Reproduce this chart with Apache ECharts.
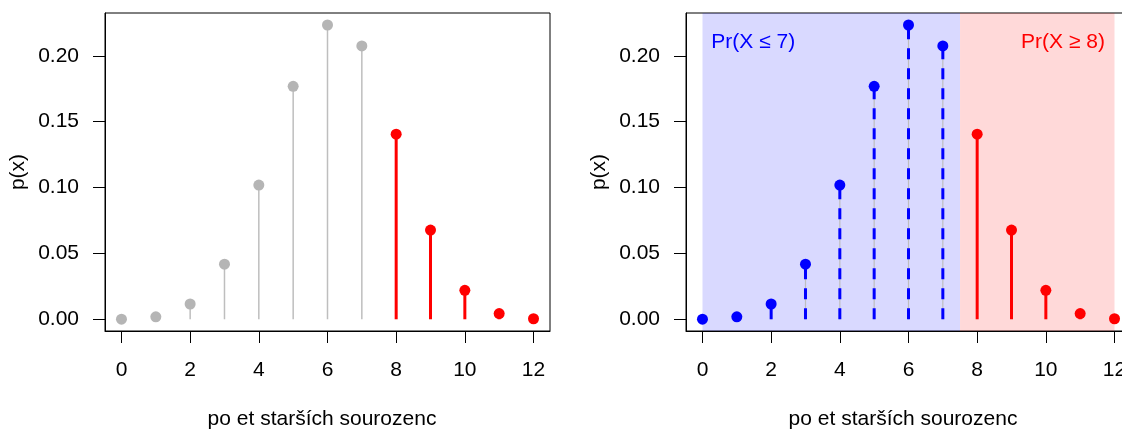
<!DOCTYPE html>
<html>
<head>
<meta charset="utf-8">
<script src="https://cdn.jsdelivr.net/npm/echarts@6/dist/echarts.min.js"></script>
<style>
html,body{margin:0;padding:0;background:#fff;}
#chart{width:1122px;height:429px;}
</style>
</head>
<body>
<div id="chart"></div>
<script>
// ---- data ----
const xValues = [0, 1, 2, 3, 4, 5, 6, 7, 8, 9, 10, 11, 12];
const probs = [0.0001, 0.0019, 0.0116, 0.0418, 0.1019, 0.1768, 0.2234, 0.2075, 0.1405, 0.0677, 0.0220, 0.0043, 0.0004];
const cutoff = 7; // lower tail: x <= 7
const xTicks = [0, 2, 4, 6, 8, 10, 12];
const yTicks = [0, 0.05, 0.10, 0.15, 0.20];
const regionBounds = [0, 7.5, 12];
const annotations = ['Pr(X \u2264 7)', 'Pr(X \u2265 8)'];
const xTitle = 'po et starších sourozenc';
const yTitle = 'p(x)';

// ---- derived ----
const pairs = xValues.map((x, i) => [x, probs[i]]);
const lower = pairs.filter(p => p[0] <= cutoff);
const upper = pairs.filter(p => p[0] > cutoff);

const FONT = 'Liberation Sans, Arial, Helvetica, sans-serif';
const FS = 21;
const BLUE = '#0000FF', RED = '#FF0000', GRAY_PT = '#B5B5B5', GRAY_LN = '#BEBEBE';

function xAxisDef(gi) {
  return {
    type: 'value', gridIndex: gi, min: -0.48, max: 12.48,
    splitLine: {show: false},
    axisLine: {show: true, onZero: false, lineStyle: {color: '#000', width: 1}},
    axisTick: {show: true, length: 12, lineStyle: {color: '#000'}, customValues: xTicks},
    axisLabel: {show: true, margin: 29, color: '#000', fontSize: FS, fontFamily: FONT, customValues: xTicks, formatter: v => String(v)},
    name: xTitle, nameLocation: 'middle', nameGap: 78,
    nameTextStyle: {color: '#000', fontSize: FS, fontFamily: FONT, padding: [0, 11, 0, 0]}
  };
}
function yAxisDef(gi) {
  return {
    type: 'value', gridIndex: gi, min: -0.0089, max: 0.2325,
    splitLine: {show: false},
    axisLine: {show: true, onZero: false, lineStyle: {color: '#000', width: 1}},
    axisTick: {show: true, length: 12, lineStyle: {color: '#000'}, customValues: yTicks},
    axisLabel: {show: true, margin: 26, color: '#000', fontSize: FS, fontFamily: FONT, customValues: yTicks, formatter: v => v.toFixed(2)},
    name: yTitle, nameLocation: 'middle', nameGap: 76, nameRotate: 90,
    nameTextStyle: {color: '#000', fontSize: FS, fontFamily: FONT}
  };
}
function stems(gi, data, color, width, dash, z) {
  return {
    type: 'custom', xAxisIndex: gi, yAxisIndex: gi, data: data, z: z, silent: true, clip: false,
    renderItem: function (params, api) {
      const p0 = api.coord([api.value(0), 0]);
      const p1 = api.coord([api.value(0), api.value(1)]);
      return {type: 'line', shape: {x1: p0[0], y1: p0[1], x2: p1[0], y2: p1[1]},
        style: {stroke: color, lineWidth: width, lineDash: dash || null, lineCap: 'butt'}};
    }
  };
}
function points(gi, data, color, z) {
  return {type: 'scatter', xAxisIndex: gi, yAxisIndex: gi, data: data, symbol: 'circle', symbolSize: 11,
    itemStyle: {color: color, opacity: 1}, z: z, silent: true, clip: false};
}

const annoColors = [BLUE, RED];
const annoPos = [[(regionBounds[0] + regionBounds[1]) / 2 - 2.27, 0.2105], [(regionBounds[1] + regionBounds[2]) / 2 + 0.75, 0.2105]];

const chart = echarts.init(document.getElementById('chart'), null, {renderer: 'canvas'});
chart.setOption({
  animation: false,
  backgroundColor: '#fff',
  grid: [
    {left: 105, top: 13, width: 445, height: 318, show: true, borderColor: '#000', borderWidth: 1, backgroundColor: 'transparent', outerBoundsMode: 'none', containLabel: false},
    {left: 686, top: 13, width: 445, height: 318, show: true, borderColor: '#000', borderWidth: 1, backgroundColor: 'transparent', outerBoundsMode: 'none', containLabel: false}
  ],
  xAxis: [xAxisDef(0), xAxisDef(1)],
  yAxis: [yAxisDef(0), yAxisDef(1)],
  series: [
    // left panel
    stems(0, lower, GRAY_LN, 1.5, null, 2),
    points(0, lower, GRAY_PT, 3),
    stems(0, upper, RED, 3, null, 2),
    points(0, upper, RED, 3),
    // right panel: shaded regions
    {
      type: 'scatter', xAxisIndex: 1, yAxisIndex: 1, z: 1, silent: true,
      data: [], symbolSize: 0,
      markArea: {
        silent: true,
        data: [
          [{xAxis: regionBounds[0], itemStyle: {color: 'rgba(0,0,255,0.15)'}}, {xAxis: regionBounds[1]}],
          [{xAxis: regionBounds[1], itemStyle: {color: 'rgba(255,0,0,0.15)'}}, {xAxis: regionBounds[2]}]
        ]
      }
    },
    // annotations
    {
      type: 'custom', xAxisIndex: 1, yAxisIndex: 1, z: 5, silent: true, clip: false,
      data: annoPos.map((p, i) => [p[0], p[1], i]),
      renderItem: function (params, api) {
        const c = api.coord([api.value(0), api.value(1)]);
        const i = api.value(2);
        return {type: 'text', x: c[0], y: c[1],
          style: {text: annotations[i], fill: annoColors[i], font: FS + 'px ' + FONT, align: 'center', verticalAlign: 'middle'}};
      }
    },
    stems(1, lower, GRAY_LN, 1.2, null, 2),
    stems(1, lower, BLUE, 3, [11, 9], 2),
    points(1, lower, BLUE, 3),
    stems(1, upper, RED, 3, null, 2),
    points(1, upper, RED, 3)
  ]
});
</script>
</body>
</html>
